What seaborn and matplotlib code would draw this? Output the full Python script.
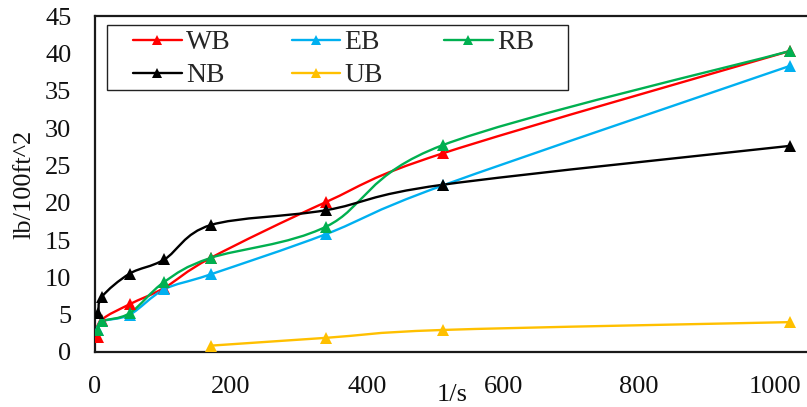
import numpy as np
import pandas as pd
import matplotlib
matplotlib.use("Agg")
import matplotlib.pyplot as plt
from matplotlib.path import Path
from matplotlib.patches import PathPatch, Rectangle
from matplotlib.lines import Line2D
import seaborn as sns

# Shear rates (1/s) and shear stress readings (lb/100ft^2)
shear_rate = [5.1, 10.2, 51, 102, 170, 340, 511, 1021]
wb = [2.0, 4.3, 6.4, 8.6, 12.6, 20.1, 26.6, 40.3]
eb = [2.9, 4.1, 5.0, 8.4, 10.4, 15.8, 22.3, 38.3]
rb = [2.9, 4.1, 5.2, 9.4, 12.6, 16.8, 27.7, 40.3]
nb = [5.2, 7.4, 10.5, 12.4, 17.0, 19.0, 22.4, 27.6]
ub_rate = [170, 340, 511, 1021]
ub = [0.85, 1.9, 2.95, 4.0]

series_names = ["WB", "EB", "RB", "NB", "UB"]
colors = {"WB": "#FF0000", "EB": "#00B0F0", "RB": "#00B050",
          "NB": "#000000", "UB": "#FFC000"}

frames = []
for name, xs, ys in [("WB", shear_rate, wb), ("EB", shear_rate, eb),
                     ("RB", shear_rate, rb), ("NB", shear_rate, nb),
                     ("UB", ub_rate, ub)]:
    frames.append(pd.DataFrame({"rate": xs, "stress": ys, "fluid": name}))
df = pd.concat(frames, ignore_index=True)

sns.set_theme(style="white")
plt.rcParams["font.family"] = ["Liberation Serif", "DejaVu Serif"]

W, H = 807, 407
AX_L, AX_B, AX_R, AX_T = 95, 352, 812, 16
AW, AH = AX_R - AX_L, AX_B - AX_T

fig = plt.figure(figsize=(W / 100, H / 100), dpi=100)
ax = fig.add_axes([AX_L / W, 1 - AX_B / H, AW / W, AH / H])


def ax_frac(px, py):
    """Pixel position in the figure -> axes fraction."""
    return (px - AX_L) / AW, (AX_B - py) / AH


LW = 1.7
MS = 8


def smooth_path(xs, ys, t=1.0 / 6.0):
    """Cubic Bezier path through the points (Catmull-Rom style smoothing)."""
    pts = np.column_stack([xs, ys]).astype(float)
    n = len(pts)
    verts = [pts[0]]
    codes = [Path.MOVETO]
    for i in range(n - 1):
        p0 = pts[i - 1] if i > 0 else pts[i]
        p1 = pts[i]
        p2 = pts[i + 1]
        p3 = pts[i + 2] if i + 2 < n else pts[i + 1]
        c1 = p1 + (p2 - p0) * t
        c2 = p2 - (p3 - p1) * t
        verts += [c1, c2, p2]
        codes += [Path.CURVE4] * 3
    return Path(verts, codes)


# smoothed connecting curves
for name in series_names:
    sub = df[df["fluid"] == name].sort_values("rate")
    patch = PathPatch(smooth_path(sub["rate"].values, sub["stress"].values),
                      facecolor="none", edgecolor=colors[name], lw=LW,
                      capstyle="round", joinstyle="round", zorder=2)
    ax.add_patch(patch)

# triangle markers at each reading
sns.lineplot(data=df, x="rate", y="stress", hue="fluid", palette=colors,
             hue_order=series_names, marker="^", markersize=MS,
             markeredgewidth=0, linestyle="", estimator=None, sort=False,
             legend=False, ax=ax, zorder=3)

ax.set_xlim(0, 1054)
ax.set_ylim(0, 45)
ax.set_xticks([0, 200, 400, 600, 800, 1000])
ax.set_yticks(np.arange(0, 46, 5))
ax.tick_params(axis="both", length=0, labelsize=19, colors="#111111")
ax.tick_params(axis="y", pad=17)
ax.tick_params(axis="x", pad=17)

for side in ["left", "bottom", "top"]:
    ax.spines[side].set_color("#1a1a1a")
    ax.spines[side].set_linewidth(1.6)
ax.spines["right"].set_visible(False)

ax.set_xlabel("1/s", fontsize=19, color="#111111")
ax.xaxis.set_label_coords(*ax_frac(452, 395))
ax.xaxis.label.set_verticalalignment("center")
ax.set_ylabel("lb/100ft^2", fontsize=19, color="#111111")
ax.yaxis.set_label_coords(*ax_frac(24, 184))
ax.yaxis.label.set_verticalalignment("center")

# legend laid out row by row: WB EB RB / NB UB
order = ["WB", "NB", "EB", "UB", "RB"]
handles = [Line2D([0], [0], color=colors[n], lw=LW, marker="^",
                  markersize=6.5, markeredgewidth=0) for n in order]
leg = ax.legend(handles, order, ncol=3, loc="upper left",
                bbox_to_anchor=ax_frac(133, 30),
                borderaxespad=0, frameon=False, borderpad=0,
                fontsize=20, handlelength=1.75, handletextpad=0.15,
                columnspacing=2.2, labelspacing=0.27)
leg.set_zorder(5)

# legend box
x0, y0 = ax_frac(107, 90)
x1, y1 = ax_frac(568, 25)
ax.add_patch(Rectangle((x0, y0), x1 - x0, y1 - y0, transform=ax.transAxes,
                       facecolor="white", edgecolor="#222222", lw=1.0,
                       zorder=4, clip_on=False))

fig.savefig("out.png", dpi=100)
